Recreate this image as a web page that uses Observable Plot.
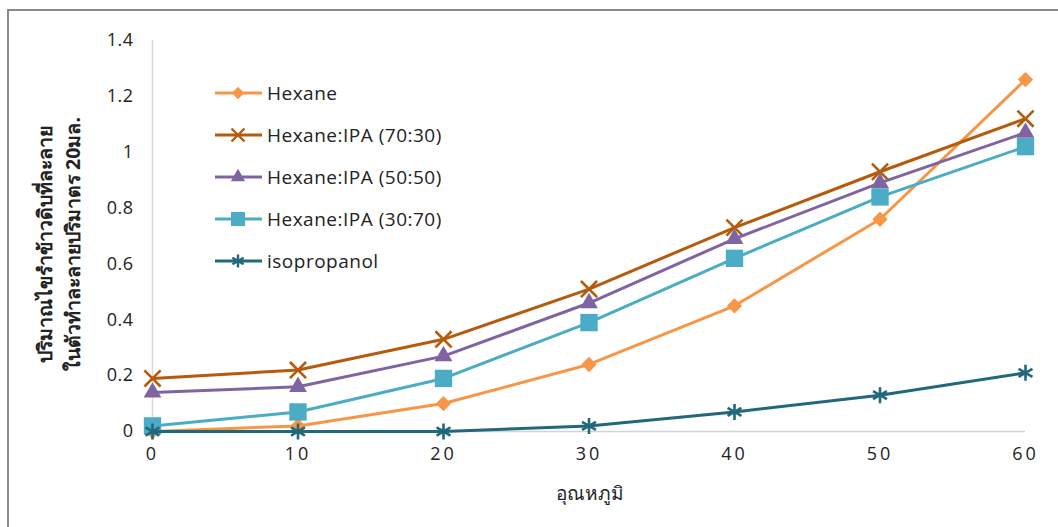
<!DOCTYPE html>
<html>
<head>
<meta charset="utf-8">
<script src="https://cdn.jsdelivr.net/npm/d3@7"></script>
<script src="https://cdn.jsdelivr.net/npm/@observablehq/plot@0.6"></script>
<style>
  html, body { margin: 0; padding: 0; background: #fff; }
  #wrap { position: relative; width: 1058px; height: 527px; overflow: hidden; font-family: "Open Sans", "Noto Sans", sans-serif; color: #222; }
  #frame { position: absolute; left: 7px; top: 9px; width: 1200px; height: 700px; border-left: 2px solid #8a8a8a; border-top: 2px solid #8a8a8a; }
  #chart { position: absolute; left: 0; top: 0; }
  #ylabel { position: absolute; left: 59px; top: 244px; transform: translate(-50%, -50%) rotate(-90deg); white-space: nowrap; text-align: center; font-weight: bold; font-size: 19.5px; line-height: 28px; }
  #xlabel { position: absolute; left: 590px; top: 493px; transform: translate(-50%, -50%); font-size: 19px; white-space: nowrap; }
  #legend { position: absolute; left: 213px; top: 78px; }
</style>
</head>
<body>
<div id="wrap">
  <div id="frame"></div>
  <div id="chart"></div>
  <div id="ylabel"></div>
  <div id="xlabel"></div>
  <div id="legend"></div>
</div>
<script>
const temps = [0, 10, 20, 30, 40, 50, 60];
const seriesNames = ["Hexane", "Hexane:IPA (70:30)", "Hexane:IPA (50:50)", "Hexane:IPA (30:70)", "isopropanol"];
const hexane      = [0.00, 0.02, 0.10, 0.24, 0.45, 0.76, 1.26];
const ipa7030     = [0.19, 0.22, 0.33, 0.51, 0.73, 0.93, 1.12];
const ipa5050     = [0.14, 0.16, 0.27, 0.46, 0.69, 0.89, 1.07];
const ipa3070     = [0.02, 0.07, 0.19, 0.39, 0.62, 0.84, 1.02];
const isopropanol = [0.00, 0.00, 0.00, 0.02, 0.07, 0.13, 0.21];
const yTicks = [0, 0.2, 0.4, 0.6, 0.8, 1, 1.2, 1.4];
const xTicks = [0, 10, 20, 30, 40, 50, 60];
const yLabelLines = ["ปริมาณไขรำข้าวดิบที่ละลาย", "ในตัวทำละลายปริมาตร 20มล."];
const xLabel = "อุณหภูมิ";

const colors  = ["#F79646", "#B65A0C", "#8064A2", "#4BACC6", "#22687A"];
const symbols = ["diamond2", "times", "triangle", "square", "asterisk"];
const radii   = [6.9, 7.4, 6.6, 9.8, 7.6];
const filled  = [true, false, true, true, false];

const allValues = [hexane, ipa7030, ipa5050, ipa3070, isopropanol];
const rows = [];
allValues.forEach((vals, si) => vals.forEach((v, i) => rows.push({series: seriesNames[si], si, x: temps[i], y: v})));

const marks = [
  Plot.ruleY([0], {stroke: "#d4d4d4", strokeWidth: 1.5}),
  Plot.ruleX([0], {stroke: "#d9d9d9", strokeWidth: 1.5}),
];
seriesNames.forEach((name, si) => {
  const d = rows.filter(r => r.si === si);
  marks.push(Plot.line(d, {x: "x", y: "y", stroke: colors[si], strokeWidth: 3}));
  marks.push(Plot.dot(d, {
    x: "x", y: "y", symbol: () => symbols[si], r: radii[si],
    fill: filled[si] ? colors[si] : "none",
    stroke: filled[si] ? "none" : colors[si],
    strokeWidth: filled[si] ? 0 : 2.6
  }));
});

const chart = Plot.plot({
  width: 1058, height: 527,
  marginLeft: 152, marginRight: 33, marginTop: 40, marginBottom: 96,
  style: {fontFamily: "'Open Sans', 'Noto Sans', sans-serif", fontSize: "18px", color: "#222", background: "transparent"},
  x: {domain: [0, 60], ticks: xTicks, tickSize: 0, tickPadding: 16, label: null},
  y: {domain: [0, 1.4], ticks: yTicks, tickSize: 0, tickPadding: 19, label: null, tickFormat: d3.format("~g")},
  symbol: {type: "identity"},
  marks
});
document.getElementById("chart").appendChild(chart);
d3.select(chart).selectAll("[aria-label='x-axis tick label'] text").style("letter-spacing", "3px");
d3.select(chart).selectAll("[aria-label='y-axis tick label'] text").style("letter-spacing", "0.5px");

document.getElementById("ylabel").innerHTML = yLabelLines.join("<br>");
document.getElementById("xlabel").textContent = xLabel;

// Legend
const rowH = 42;
const lsvg = d3.select("#legend").append("svg").attr("width", 300).attr("height", rowH * seriesNames.length + 10);
const symMap = {diamond2: d3.symbolDiamond2, times: d3.symbolTimes, triangle: d3.symbolTriangle, square: d3.symbolSquare, asterisk: d3.symbolAsterisk};
seriesNames.forEach((name, si) => {
  const g = lsvg.append("g").attr("transform", `translate(0,${15 + si * rowH})`);
  g.append("line").attr("x1", 2).attr("x2", 49).attr("y1", 0).attr("y2", 0).attr("stroke", colors[si]).attr("stroke-width", 3);
  g.append("path").attr("transform", "translate(25,0)")
    .attr("d", d3.symbol(symMap[symbols[si]], Math.PI * radii[si] * radii[si] * 0.65)())
    .attr("fill", filled[si] ? colors[si] : "none")
    .attr("stroke", filled[si] ? "none" : colors[si])
    .attr("stroke-width", 2.4);
  g.append("text").attr("x", 54).attr("y", 0).attr("dy", "0.35em")
    .attr("font-size", 19).attr("fill", "#222")
    .attr("letter-spacing", "0.5px")
    .attr("font-family", "'Open Sans', 'Noto Sans', sans-serif")
    .text(name);
});
</script>
</body>
</html>
